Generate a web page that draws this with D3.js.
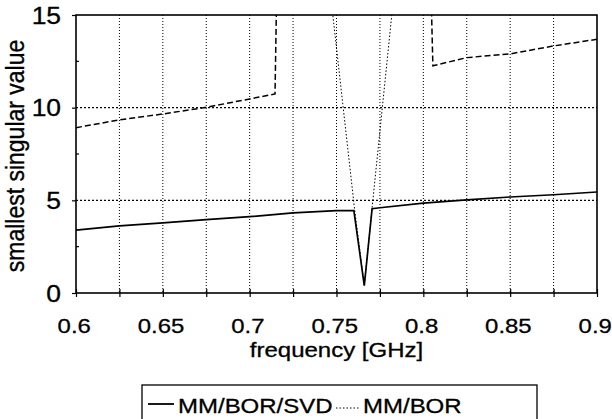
<!DOCTYPE html>
<html>
<head>
<meta charset="utf-8">
<script src="https://cdn.jsdelivr.net/npm/d3@7"></script>
<style>
  html, body { margin: 0; padding: 0; background: #fff; }
  svg { display: block; font-family: "Liberation Sans", Arial, sans-serif; }
  svg text { stroke: #000; stroke-width: 0.3px; }
</style>
</head>
<body>
<svg id="chart" width="612" height="419"></svg>
<script>
// tick values
const xMajorTicks = [0.6, 0.65, 0.7, 0.75, 0.8, 0.85, 0.9];
const xMinorTicks = [0.6, 0.625, 0.65, 0.675, 0.7, 0.725, 0.75, 0.775, 0.8, 0.825, 0.85, 0.875, 0.9];
const yMajorTicks = [0, 5, 10, 15];
const yMinorTicks = [2.5, 7.5, 12.5];
const yGridLines = [5, 10];

// MM/BOR/SVD (solid)
const svdFreq  = [0.6, 0.625, 0.65, 0.675, 0.7, 0.725, 0.75, 0.76, 0.766, 0.7705, 0.775, 0.8, 0.825, 0.85, 0.875, 0.9];
const svdValue = [3.39, 3.62, 3.78, 3.96, 4.12, 4.32, 4.44, 4.45, 0.4, 4.55, 4.6, 4.85, 5.02, 5.18, 5.3, 5.45];

// MM/BOR (dotted)
const borFreq  = [0.745, 0.7605, 0.766, 0.7705, 0.785];
const borValue = [17.4, 4.45, 0.4, 4.6, 17.9];

// third curve (dashed), its legend entry is below the visible area
const dashFreq  = [0.6, 0.625, 0.65, 0.675, 0.7, 0.7146, 0.7155, 0.8045, 0.8055, 0.825, 0.85, 0.875, 0.9];
const dashValue = [8.92, 9.34, 9.66, 10.02, 10.47, 10.74, 16, 16, 12.26, 12.7, 12.9, 13.33, 13.69];

const legendLabels = ["MM/BOR/SVD", "MM/BOR"];

const svg = d3.select("#chart");
const plotLeft = 76, plotRight = 597, plotTop = 15, plotBottom = 293;

const x = d3.scaleLinear().domain([0.6, 0.9]).range([plotLeft, plotRight]);
const y = d3.scaleLinear().domain([0, 15]).range([plotBottom, plotTop]);

svg.append("clipPath").attr("id", "plotclip")
  .append("rect")
    .attr("x", plotLeft).attr("y", plotTop)
    .attr("width", plotRight - plotLeft).attr("height", plotBottom - plotTop);

// grid
svg.append("g")
  .selectAll("line")
  .data(xMinorTicks.slice(1, -1))
  .enter().append("line")
    .attr("x1", d => x(d)).attr("x2", d => x(d))
    .attr("y1", plotTop).attr("y2", plotBottom)
    .attr("stroke", "#000")
    .attr("stroke-width", 1)
    .attr("stroke-dasharray", "1,2");

svg.append("g")
  .selectAll("line")
  .data(yGridLines)
  .enter().append("line")
    .attr("x1", plotLeft).attr("x2", plotRight)
    .attr("y1", d => y(d)).attr("y2", d => y(d))
    .attr("stroke", "#000")
    .attr("stroke-width", 1.1)
    .attr("stroke-dasharray", "2,2");

// series
const line = d3.line().x(d => x(d[0])).y(d => y(d[1]));
const plot = svg.append("g").attr("clip-path", "url(#plotclip)");

plot.append("path")
  .datum(dashFreq.map((f, i) => [f, dashValue[i]]))
  .attr("d", line)
  .attr("fill", "none")
  .attr("stroke", "#000")
  .attr("stroke-width", 1.5)
  .attr("stroke-dasharray", "6,3");

plot.append("path")
  .datum(borFreq.map((f, i) => [f, borValue[i]]))
  .attr("d", line)
  .attr("fill", "none")
  .attr("stroke", "#000")
  .attr("stroke-width", 1)
  .attr("stroke-dasharray", "1.5,2");

plot.append("path")
  .datum(svdFreq.map((f, i) => [f, svdValue[i]]))
  .attr("d", line)
  .attr("fill", "none")
  .attr("stroke", "#000")
  .attr("stroke-width", 1.7);

// frame
svg.append("rect")
  .attr("x", plotLeft).attr("y", plotTop)
  .attr("width", plotRight - plotLeft).attr("height", plotBottom - plotTop)
  .attr("fill", "none")
  .attr("stroke", "#000")
  .attr("stroke-width", 1.6);

// axes
const xAxis = svg.append("g")
  .attr("transform", `translate(0,${plotBottom})`)
  .call(d3.axisBottom(x)
    .tickValues(xMinorTicks)
    .tickSize(4)
    .tickFormat(d => xMajorTicks.some(t => Math.abs(t - d) < 1e-9) ? String(+d.toFixed(2)) : ""));
xAxis.select(".domain").remove();
xAxis.selectAll("line")
  .attr("y1", -4).attr("y2", 4)
  .attr("stroke", "#000").attr("stroke-width", 1.2);
xAxis.selectAll("text")
  .attr("x", -2).attr("y", 40).attr("dy", null)
  .attr("fill", "#000")
  .attr("font-size", 21)
  .attr("font-family", "Liberation Sans, Arial, sans-serif")
  .attr("transform", "scale(1.14,1)");

const yAxis = svg.append("g")
  .attr("transform", `translate(${plotLeft},0)`)
  .call(d3.axisLeft(y).tickValues(yMajorTicks).tickSize(4));
yAxis.select(".domain").remove();
yAxis.selectAll("line").attr("stroke", "#000").attr("stroke-width", 1.2);
yAxis.selectAll("text")
  .attr("x", -13)
  .attr("dy", "0.36em")
  .attr("fill", "#000")
  .attr("font-size", 23)
  .attr("font-family", "Liberation Sans, Arial, sans-serif")
  .attr("transform", "scale(1.15,1)");

svg.append("g")
  .selectAll("line")
  .data(yMinorTicks)
  .enter().append("line")
    .attr("x1", plotLeft).attr("x2", plotLeft + 3)
    .attr("y1", d => y(d)).attr("y2", d => y(d))
    .attr("stroke", "#000")
    .attr("stroke-width", 1.2);

// axis titles
svg.append("text")
  .attr("transform", `translate(${(plotLeft + plotRight) / 2},357) scale(1.2,1)`)
  .attr("text-anchor", "middle")
  .attr("font-size", 20)
  .text("frequency [GHz]");

svg.append("text")
  .attr("transform", `translate(24,${(plotTop + plotBottom) / 2 + 2}) rotate(-90) scale(1,1.12)`)
  .attr("text-anchor", "middle")
  .attr("font-size", 23)
  .text("smallest singular value");

// legend
const legend = svg.append("g");
legend.append("rect")
  .attr("x", 142).attr("y", 385)
  .attr("width", 395).attr("height", 60)
  .attr("fill", "none")
  .attr("stroke", "#000")
  .attr("stroke-width", 1.3);

legend.append("line")
  .attr("x1", 148).attr("x2", 174)
  .attr("y1", 404).attr("y2", 404)
  .attr("stroke", "#000").attr("stroke-width", 1.8);
legend.append("text")
  .attr("transform", "translate(178,412.5) scale(1.2,1)")
  .attr("font-size", 20)
  .text(legendLabels[0]);

legend.append("line")
  .attr("x1", 336).attr("x2", 360)
  .attr("y1", 408).attr("y2", 408)
  .attr("stroke", "#000").attr("stroke-width", 1)
  .attr("stroke-dasharray", "1.5,2");
legend.append("text")
  .attr("transform", "translate(363,412.5) scale(1.2,1)")
  .attr("font-size", 20)
  .text(legendLabels[1]);
</script>
</body>
</html>
